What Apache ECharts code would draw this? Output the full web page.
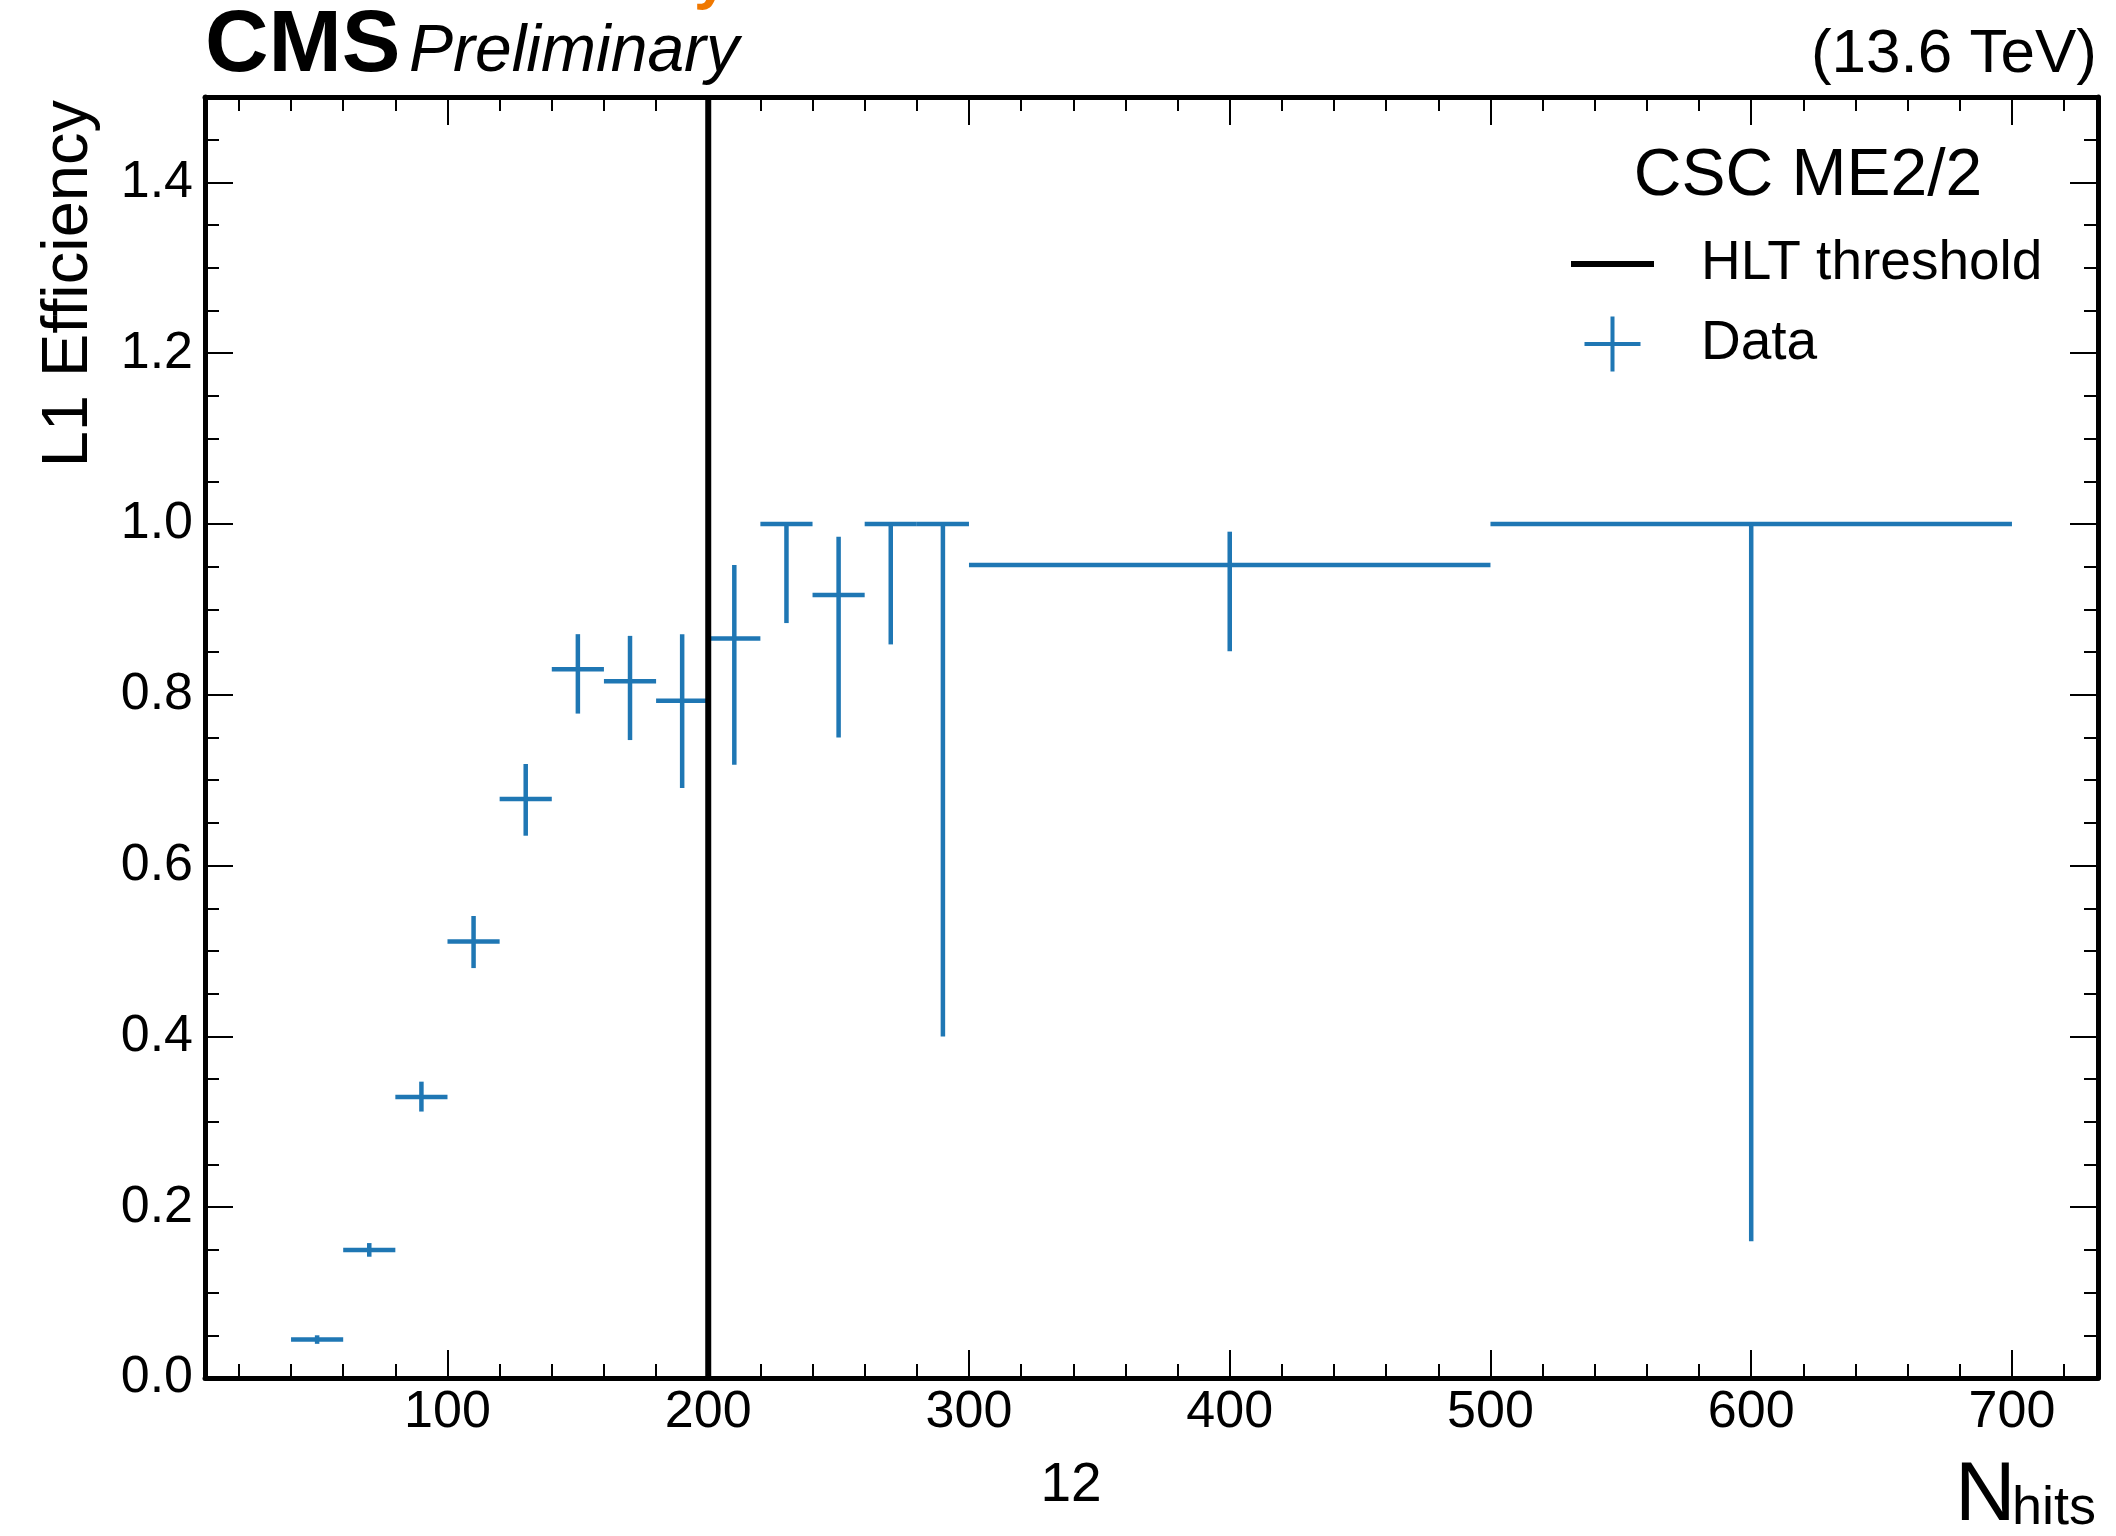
<!DOCTYPE html>
<html>
<head>
<meta charset="utf-8">
<script src="https://cdn.jsdelivr.net/npm/echarts@6/dist/echarts.min.js"></script>
<style>
  html, body { margin: 0; padding: 0; background: #fff; }
  #chart { width: 2116px; height: 1536px; }
</style>
</head>
<body>
<div id="chart"></div>
<script>
// bins (N_hits) and L1 efficiency with asymmetric error bounds
const binLow = [40, 60, 80, 100, 120, 140, 160, 180, 200, 220, 240, 260, 280, 300, 500];
const binHigh = [60, 80, 100, 120, 140, 160, 180, 200, 220, 240, 260, 280, 300, 500, 700];
const efficiency = [0.045, 0.150, 0.329, 0.511, 0.678, 0.830, 0.816, 0.793, 0.866, 1.0, 0.917, 1.0, 1.0, 0.952, 1.0];
const effLower = [0.040, 0.142, 0.312, 0.480, 0.635, 0.778, 0.747, 0.691, 0.718, 0.884, 0.750, 0.859, 0.400, 0.851, 0.160];
const effUpper = [0.050, 0.158, 0.347, 0.541, 0.719, 0.871, 0.869, 0.871, 0.952, 1.0, 0.985, 1.0, 1.0, 0.991, 1.0];

const hltThreshold = 200;
const thresholdSpan = [0, 1.5];

const xMajorTicks = [100, 200, 300, 400, 500, 600, 700];
const xMinorTicks = [20, 40, 60, 80, 120, 140, 160, 180, 220, 240, 260, 280, 320, 340, 360, 380,
  420, 440, 460, 480, 520, 540, 560, 580, 620, 640, 660, 680, 720];
const yMajorTicks = [0, 0.2, 0.4, 0.6, 0.8, 1.0, 1.2, 1.4];
const yMinorTicks = [0.05, 0.1, 0.15, 0.25, 0.3, 0.35, 0.45, 0.5, 0.55, 0.65, 0.7, 0.75,
  0.85, 0.9, 0.95, 1.05, 1.1, 1.15, 1.25, 1.3, 1.35, 1.45];

const FONT = '"Liberation Sans", Arial, Helvetica, sans-serif';
const BLUE = '#1f77b4';

const chart = echarts.init(document.getElementById('chart'));

const points = binLow.map((lo, i) => [lo, binHigh[i], (lo + binHigh[i]) / 2, efficiency[i], effLower[i], effUpper[i]]);

const xBase = { type: 'value', gridIndex: 0, min: 7, max: 733, splitLine: { show: false } };
const yBase = { type: 'value', gridIndex: 0, min: 0, max: 1.5, splitLine: { show: false } };
const boxLine = { show: true, onZero: false, lineStyle: { color: '#000', width: 5 } };
const noLine = { show: false, onZero: false };

function majorTick(values) {
  return { show: true, inside: true, length: 28, customValues: values, lineStyle: { color: '#000', width: 2 } };
}
function minorTick(values) {
  return { show: true, inside: true, length: 14, customValues: values, lineStyle: { color: '#000', width: 2 } };
}

chart.setOption({
  animation: false,
  backgroundColor: '#fff',
  grid: { left: 205, right: 18, top: 97, bottom: 158 },
  xAxis: [
    Object.assign({}, xBase, {
      position: 'bottom', axisLine: boxLine, axisTick: majorTick(xMajorTicks),
      axisLabel: { show: true, customValues: xMajorTicks, margin: 9, fontSize: 52, color: '#000', fontFamily: FONT }
    }),
    Object.assign({}, xBase, { position: 'bottom', axisLine: noLine, axisTick: minorTick(xMinorTicks), axisLabel: { show: false } }),
    Object.assign({}, xBase, { position: 'top', axisLine: boxLine, axisTick: majorTick(xMajorTicks), axisLabel: { show: false } }),
    Object.assign({}, xBase, { position: 'top', axisLine: noLine, axisTick: minorTick(xMinorTicks), axisLabel: { show: false } })
  ],
  yAxis: [
    Object.assign({}, yBase, {
      position: 'left', axisLine: boxLine, axisTick: majorTick(yMajorTicks),
      axisLabel: {
        show: true, customValues: yMajorTicks, margin: 12, fontSize: 52, color: '#000', fontFamily: FONT,
        formatter: v => v.toFixed(1)
      }
    }),
    Object.assign({}, yBase, { position: 'left', axisLine: noLine, axisTick: minorTick(yMinorTicks), axisLabel: { show: false } }),
    Object.assign({}, yBase, { position: 'right', axisLine: boxLine, axisTick: majorTick(yMajorTicks), axisLabel: { show: false } }),
    Object.assign({}, yBase, { position: 'right', axisLine: noLine, axisTick: minorTick(yMinorTicks), axisLabel: { show: false } })
  ],
  legend: {
    show: true,
    orient: 'vertical',
    left: 1571,
    top: 236,
    padding: 0,
    itemWidth: 125,
    itemHeight: 56,
    itemGap: 24,
    selectedMode: false,
    itemStyle: { borderWidth: 0 },
    textStyle: { fontSize: 55, color: '#000', fontFamily: FONT },
    data: [
      { name: 'HLT threshold', icon: 'path://M0,0M125,56M0,25H83V31H0Z' },
      { name: 'Data', icon: 'path://M0,0M125,56M13.5,26H39.5V0.5H43.5V26H69.5V30H43.5V55.5H39.5V30H13.5Z' }
    ]
  },
  series: [
    {
      name: 'HLT threshold',
      type: 'line',
      xAxisIndex: 0,
      yAxisIndex: 0,
      color: '#000',
      symbol: 'none',
      silent: true,
      lineStyle: { color: '#000', width: 6 },
      data: thresholdSpan.map(v => [hltThreshold, v]),
      z: 3
    },
    {
      name: 'Data',
      type: 'custom',
      xAxisIndex: 0,
      yAxisIndex: 0,
      color: BLUE,
      itemStyle: { color: BLUE },
      silent: true,
      encode: { x: [0, 1], y: [3, 4, 5] },
      data: points,
      renderItem: function (params, api) {
        const left = api.coord([api.value(0), api.value(3)]);
        const right = api.coord([api.value(1), api.value(3)]);
        const top = api.coord([api.value(2), api.value(5)]);
        const bottom = api.coord([api.value(2), api.value(4)]);
        const style = { stroke: BLUE, lineWidth: 4.5, lineCap: 'butt' };
        return {
          type: 'group',
          children: [
            { type: 'line', shape: { x1: left[0], y1: left[1], x2: right[0], y2: right[1] }, style: style },
            { type: 'line', shape: { x1: top[0], y1: top[1], x2: bottom[0], y2: bottom[1] }, style: style }
          ]
        };
      },
      z: 2
    }
  ],
  graphic: [
    // cut-off glyph of the slide title above the plot
    { type: 'text', left: 694, top: -51, z: 10,
      style: { text: 'y', fontSize: 62, fontWeight: 'bold', fontFamily: FONT, fill: '#f07800' } },
    { type: 'text', x: 205, y: 47, z: 10,
      style: { text: 'CMS', fontSize: 88, fontWeight: 'bold', fontFamily: FONT, fill: '#000', verticalAlign: 'middle' } },
    { type: 'text', x: 409, y: 53, z: 10,
      style: { text: 'Preliminary', fontSize: 66, fontStyle: 'italic', fontFamily: FONT, fill: '#000', verticalAlign: 'middle' } },
    { type: 'text', x: 2097, y: 55, z: 10,
      style: { text: '(13.6 TeV)', fontSize: 62, fontFamily: FONT, fill: '#000', align: 'right', verticalAlign: 'middle' } },
    { type: 'text', x: 1808, y: 177, z: 10,
      style: { text: 'CSC ME2/2', fontSize: 66, fontFamily: FONT, fill: '#000', align: 'center', verticalAlign: 'middle' } },
    { type: 'text', x: 69, y: 100, rotation: Math.PI / 2, z: 10,
      style: { text: 'L1 Efficiency', fontSize: 65, fontFamily: FONT, fill: '#000', align: 'right', verticalAlign: 'middle' } },
    { type: 'text', x: 1071, y: 1486, z: 10,
      style: { text: '12', fontSize: 55, fontFamily: FONT, fill: '#000', align: 'center', verticalAlign: 'middle' } },
    { type: 'text', x: 1955, y: 1497, z: 10,
      style: { text: 'N', fontSize: 84, fontFamily: FONT, fill: '#000', verticalAlign: 'middle' } },
    { type: 'text', x: 2012, y: 1509, z: 10,
      style: { text: 'hits', fontSize: 54, fontFamily: FONT, fill: '#000', verticalAlign: 'middle' } }
  ]
});
</script>
</body>
</html>
